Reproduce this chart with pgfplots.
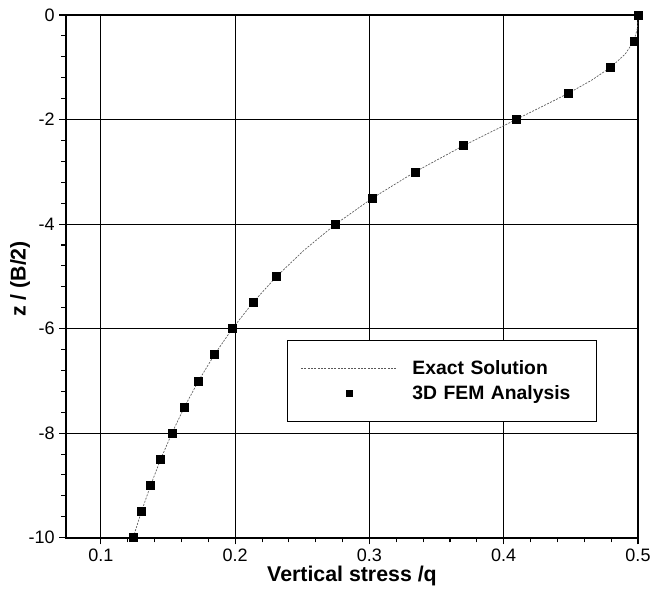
\documentclass[border=0pt]{standalone}
\usepackage{pgfplots}
\pgfplotsset{compat=1.18}
\usepackage{fontspec}
\setmainfont{Liberation Sans}
\begin{document}
\begin{tikzpicture}
\begin{axis}[
  width=429pt, height=392pt, scale only axis,
  xmin=0.074, xmax=0.5, ymin=-10, ymax=0,
  xtick={0.1,0.2,0.3,0.4,0.5}, ytick={-10,-8,-6,-4,-2,0},
  minor x tick num=4, minor y tick num=4,
  grid=major, major grid style={black, line width=0.7pt},
  axis line style={line width=1.5pt},
  tick align=outside, tick pos=left,
  major tick length=5pt, minor tick length=3.5pt,
  every tick/.style={black, line width=0.8pt},
  /pgf/number format/assume math mode=true,
  /pgf/number format/fixed,
  ticklabel style={font=\fontsize{13.5}{15}\selectfont},
  xticklabel style={inner sep=1pt, yshift=-2pt},
  xlabel={\textbf{Vertical stress /q}},
  ylabel={\textbf{z / (B/2)}},
  label style={font=\fontsize{16}{18}\selectfont},
  xlabel style={at={(axis description cs:0.5,0)}, anchor=center, inner sep=1pt, yshift=-28.5pt},
  ylabel style={at={(axis description cs:0,0.5)}, anchor=center, yshift=34.5pt, xshift=-2pt},
  clip=false,
  legend image code/.code={\draw[mark repeat=2,mark phase=2,#1] plot coordinates {(0cm,0cm) (1.27cm,0cm) (2.54cm,0cm)};},
  legend style={at={(0.386,0.379)}, anchor=north west, draw=black, line width=1pt, fill=white,
    font=\fontsize{14.5}{17}\selectfont\bfseries, inner xsep=10pt, inner ysep=13pt,
    row sep=3pt, column sep=9pt, text width=126pt},
  legend cell align=left,
]
\addplot[gray!70!black, line width=0.5pt, dash pattern=on 1.5pt off 1pt, mark=none] coordinates {
(0.5000,0) (0.49998,-0.1) (0.4996,-0.25) (0.4969,-0.5) (0.4904,-0.75) (0.4797,-1.0) (0.4653,-1.25)
(0.4480,-1.5) (0.4092,-2.0) (0.3700,-2.5) (0.3341,-3.0) (0.3024,-3.5) (0.2749,-4.0) (0.2513,-4.5)
(0.2309,-5.0) (0.2133,-5.5) (0.1979,-6.0) (0.1845,-6.5) (0.1727,-7.0) (0.1622,-7.5) (0.1529,-8.0)
(0.1445,-8.5) (0.1370,-9.0) (0.1302,-9.5) (0.1240,-10.0)
};
\addlegendentry{Exact Solution}
\addplot[only marks, mark=square*, mark size=3pt, black, legend image post style={mark size=2pt}] coordinates {
(0.5000,0) (0.4969,-0.5) (0.4797,-1.0) (0.4480,-1.5) (0.4092,-2.0) (0.3700,-2.5) (0.3341,-3.0)
(0.3024,-3.5) (0.2749,-4.0) (0.2309,-5.0) (0.2133,-5.5) (0.1979,-6.0) (0.1845,-6.5) (0.1727,-7.0)
(0.1622,-7.5) (0.1529,-8.0) (0.1445,-8.5) (0.1370,-9.0) (0.1302,-9.5) (0.1240,-10.0)
};
\addlegendentry{3D FEM Analysis}
\end{axis}
\path (current axis.south west) +(-49.5pt,-39pt);
\path (current axis.north east) +(11.25pt,11.25pt);
\end{tikzpicture}
\end{document}
